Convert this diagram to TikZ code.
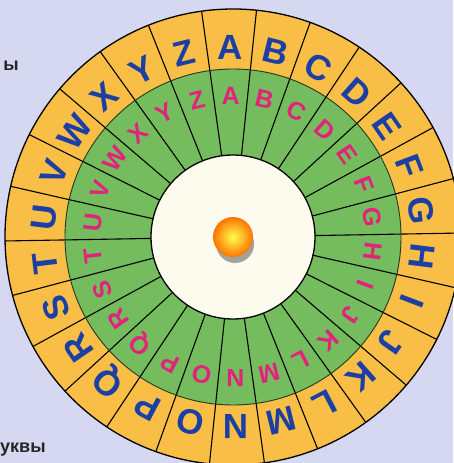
\documentclass[tikz,border=0pt]{standalone}
\usepackage{fontspec}
\setmainfont{Liberation Sans}
\definecolor{bgcol}{HTML}{D6D7F0}
\definecolor{ringyellow}{HTML}{F8BE45}
\definecolor{ringgreen}{HTML}{74BC5E}
\definecolor{hubcream}{HTML}{FDFBEE}
\definecolor{letterblue}{HTML}{1C3FA5}
\definecolor{letterpink}{HTML}{E2227C}
\definecolor{labelgray}{HTML}{262626}
\begin{document}
\begin{tikzpicture}[x=1pt, y=1pt,
    outerletter/.style={text=letterblue, font=\bfseries\fontsize{35}{35}\selectfont, inner sep=0pt},
    innerletter/.style={text=letterpink, font=\bfseries\fontsize{25}{25}\selectfont, inner sep=0pt},
    spoke/.style={black, line width=1.1pt},
    rim/.style={black, line width=1.3pt},
    sidelabel/.style={text=labelgray, font=\bfseries\fontsize{18}{18}\selectfont, inner sep=0pt}]
    % background
    \fill[bgcol] (-233,-226) rectangle (220,237);
    \useasboundingbox (-233,-226) rectangle (220,237);

    % side labels
    \node[sidelabel, anchor=base east] (toptext) at (-214,166) {ы};
    \node[sidelabel, anchor=base west] (bottomtext) at (-233,-215) {уквы};

    \begin{scope}[rotate=1]
        % rings
        \fill[ringyellow] (0,0) circle (228);
        \fill[ringgreen] (0,0) circle (168);
        \fill[hubcream] (0,0) circle (82);

        % spokes
        \foreach \i in {0,...,25}
            \draw[spoke] ({90-360/52-\i*360/26}:82) -- ({90-360/52-\i*360/26}:228);

        % rims
        \draw[rim] (0,0) circle (228);
        \draw[black!70!ringgreen, line width=0.9pt] (0,0) circle (168);
        \draw[rim] (0,0) circle (82);

        % letters
        \foreach \l [count=\i from 0] in {A,B,C,D,E,F,G,H,I,J,K,L,M,N,O,P,Q,R,S,T,U,V,W,X,Y,Z} {
            \node[outerletter, rotate={-\i*360/26}] (out\l) at ({90-\i*360/26}:190) {\l};
            \node[innerletter, rotate={-\i*360/26}] (in\l) at ({90-\i*360/26}:141) {\l};
        }

        % centre pin
        \fill[black!45, opacity=0.8] (2,-7) circle (19);
        \shade[inner color=yellow!70!white, outer color=orange!90!red] (0,0) coordinate (pin) circle (20);
    \end{scope}
\end{tikzpicture}
\end{document}
